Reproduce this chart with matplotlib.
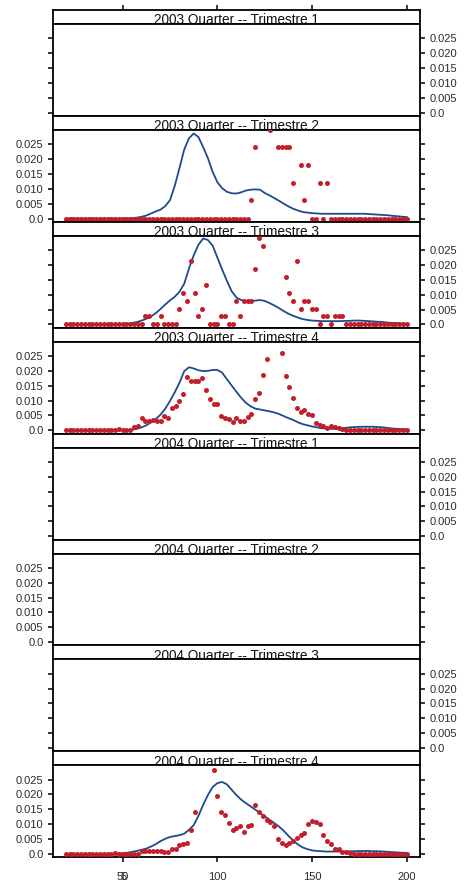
import numpy as np
import matplotlib.pyplot as plt

nan = np.nan

panel_titles = [
    "2003 Quarter -- Trimestre 1", "2003 Quarter -- Trimestre 2",
    "2003 Quarter -- Trimestre 3", "2003 Quarter -- Trimestre 4",
    "2004 Quarter -- Trimestre 1", "2004 Quarter -- Trimestre 2",
    "2004 Quarter -- Trimestre 3", "2004 Quarter -- Trimestre 4",
]

# observed values (red points), x = 20, 22, ..., 200
x_pts = np.arange(20, 201, 2)

pts_2003_q2 = [0.0] * 49 + [
    0.0061, 0.0239, nan, nan, nan, 0.0298, nan, 0.0239, 0.0239, 0.0239,
    0.0239, 0.0120, nan, 0.0179, 0.0061, 0.0179, 0.0, 0.0, 0.0120, 0.0,
    0.0120] + [0.0] * 21

pts_2003_q3 = [0.0] * 21 + [
    0.0027, 0.0027, 0.0, 0.0, 0.0027, 0.0, 0.0, 0.0, 0.0, 0.0053,
    0.0106, 0.0080, 0.0212, 0.0106, 0.0027, 0.0053, 0.0133, 0.0, 0.0, 0.0,
    0.0027, 0.0027, 0.0, 0.0, 0.0080, 0.0027, 0.0080, 0.0080, 0.0080, 0.0186,
    0.0292, 0.0265, nan, nan, nan, nan, nan, 0.0159, 0.0106, 0.0080,
    0.0212, 0.0053, 0.0080, 0.0080, 0.0053, 0.0053, 0.0, 0.0027, 0.0027, 0.0,
    0.0027, 0.0027, 0.0027] + [0.0] * 17

pts_2003_q4 = [0.0] * 13 + [
    0.0002, 0.0005, 0.0002, 0.0, 0.0002, 0.0010, 0.0016, 0.0040, 0.0030, 0.0031,
    0.0035, 0.0030, 0.0033, 0.0049, 0.0040, 0.0075, 0.0081, 0.0099, 0.0121, 0.0180,
    0.0165, 0.0165, 0.0165, 0.0176, 0.0137, 0.0107, 0.0089, 0.0089, 0.0048, 0.0041,
    0.0038, 0.0029, 0.0043, 0.0032, 0.0031, 0.0046, 0.0055, 0.0106, 0.0127, 0.0187,
    0.0240, nan, nan, nan, 0.0261, 0.0182, 0.0147, 0.0109, 0.0075, 0.0060,
    0.0067, 0.0055, 0.0051, 0.0026, 0.0017, 0.0015, 0.0007, 0.0014, 0.0012, 0.0007,
    0.0003, 0.0002] + [
    0.0002, 0.0001, 0.0001, 0.0, 0.0, 0.0001, 0.0, 0.0,
    0.0, 0.0, 0.0, 0.0, 0.0, 0.0, 0.0, 0.0]

pts_2004_q4 = [0.0] * 13 + [0.0003, 0.0001, 0.0001, 0.0001, 0.0001, 0.0001, 0.0001] + [
    0.0009, 0.0011, 0.0011, 0.0011, 0.0011, 0.0011, 0.0008, 0.0007, 0.0015, 0.0015,
    0.0030, 0.0032, 0.0037, 0.0081, 0.0142, nan, nan, nan, nan, 0.0282,
    0.0195, 0.0142, 0.0131, 0.0104, 0.0081, 0.0088, 0.0095, 0.0075, 0.0093, 0.0097,
    0.0163, 0.0140, 0.0129, 0.0115, 0.0109, 0.0093, 0.0050, 0.0036, 0.0030, 0.0036,
    0.0045, 0.0053, 0.0062, 0.0071, 0.0099, 0.0111, 0.0106, 0.0100, 0.0064, 0.0043,
    0.0033, 0.0015, 0.0015, 0.0008, 0.0006, 0.0003] + [0.0] * 15

# density curves (blue lines), x = 20, 22.5, ..., 200
x_dens = np.arange(20, 200.01, 2.5)

dens_2003_q2 = [0.0] * 14 + [
    0.0001, 0.0003, 0.0006, 0.0010, 0.0017, 0.0024, 0.0030, 0.0042, 0.0062, 0.0110,
    0.0170, 0.0232, 0.0270, 0.0286, 0.0274, 0.0240, 0.0203, 0.0157, 0.0122, 0.0102,
    0.0090, 0.0085, 0.0084, 0.0088, 0.0094, 0.0097, 0.0098, 0.0097, 0.0086, 0.0078,
    0.0069, 0.0060, 0.0050, 0.0041, 0.0033, 0.0027, 0.0022, 0.0020, 0.0018, 0.0017,
    0.0016, 0.0016, 0.0016, 0.0016, 0.0016, 0.0016, 0.0016, 0.0016, 0.0016, 0.0016,
    0.0015, 0.0014, 0.0013, 0.0012, 0.0011, 0.0009, 0.0008, 0.0006, 0.0005]

dens_2003_q3 = [0.0] * 12 + [
    0.0001, 0.0002, 0.0005, 0.0008, 0.0013, 0.0019, 0.0027, 0.0038, 0.0052, 0.0067,
    0.0081, 0.0093, 0.0110, 0.0137, 0.0188, 0.0232, 0.0268, 0.0289, 0.0284, 0.0265,
    0.0225, 0.0185, 0.0147, 0.0112, 0.0091, 0.0082, 0.0079, 0.0079, 0.0080, 0.0082,
    0.0079, 0.0072, 0.0064, 0.0055, 0.0045, 0.0036, 0.0029, 0.0023, 0.0018, 0.0015,
    0.0013, 0.0012, 0.0011, 0.0011, 0.0011, 0.0011, 0.0011, 0.0012, 0.0012, 0.0013,
    0.0013, 0.0012, 0.0011, 0.0010, 0.0009, 0.0008, 0.0006, 0.0005, 0.0004, 0.0003,
    0.0002]

dens_2003_q4 = [0.0] * 12 + [
    0.0001, 0.0001, 0.0002, 0.0005, 0.0010, 0.0017, 0.0027, 0.0038, 0.0053, 0.0073,
    0.0099, 0.0128, 0.0160, 0.0199, 0.0212, 0.0208, 0.0202, 0.0199, 0.0200, 0.0203,
    0.0203, 0.0194, 0.0172, 0.0151, 0.0130, 0.0110, 0.0093, 0.0081, 0.0073, 0.0070,
    0.0067, 0.0064, 0.0060, 0.0055, 0.0048, 0.0041, 0.0035, 0.0027, 0.0021, 0.0017,
    0.0013, 0.0010, 0.0007, 0.0006, 0.0005, 0.0005, 0.0006, 0.0008, 0.0010, 0.0011,
    0.0012, 0.0012, 0.0012, 0.0012, 0.0011, 0.0010, 0.0008, 0.0006, 0.0005, 0.0004,
    0.0003]

dens_2004_q4 = [0.0] * 11 + [
    0.0001, 0.0002, 0.0004, 0.0007, 0.0010, 0.0014, 0.0018, 0.0025, 0.0033, 0.0043,
    0.0051, 0.0057, 0.0060, 0.0063, 0.0068, 0.0081, 0.0097, 0.0128, 0.0165, 0.0198,
    0.0225, 0.0238, 0.0242, 0.0234, 0.0216, 0.0198, 0.0183, 0.0171, 0.0160, 0.0149,
    0.0138, 0.0127, 0.0115, 0.0104, 0.0092, 0.0078, 0.0061, 0.0045, 0.0032, 0.0022,
    0.0016, 0.0012, 0.0010, 0.0009, 0.0008, 0.0008, 0.0008, 0.0008, 0.0008, 0.0009,
    0.0009, 0.0010, 0.0010, 0.0010, 0.0009, 0.0009, 0.0008, 0.0007, 0.0006, 0.0005,
    0.0004, 0.0003]

panel_pts = [None, pts_2003_q2, pts_2003_q3, pts_2003_q4, None, None, None, pts_2004_q4]
panel_dens = [None, dens_2003_q2, dens_2003_q3, dens_2003_q4, None, None, None, dens_2004_q4]

y_ticks = [0.0, 0.005, 0.010, 0.015, 0.020, 0.025]
y_labels = ["0.0", "0.005", "0.010", "0.015", "0.020", "0.025"]
x_ticks = [50, 100, 150, 200]

plt.rcParams['font.family'] = ['Liberation Sans', 'DejaVu Sans']

W, H = 466, 886
fig = plt.figure(figsize=(W / 100, H / 100), dpi=100)

left, right = 53, 420
top0 = 10
block = 105.9
strip_h = 14
xlim = (13.2, 207)
ylim = (-0.0011, 0.0298)
red = '#c41e2a'
blue = '#1d4b8c'
lab_col = '#2b2b2b'
lw_frame = 1.3

for i in range(8):
    y_top = top0 + i * block
    sax = fig.add_axes([left / W, 1 - (y_top + strip_h) / H, (right - left) / W, strip_h / H])
    pax = fig.add_axes([left / W, 1 - (y_top + block) / H, (right - left) / W, (block - strip_h) / H])

    # strip
    sax.set_xlim(xlim)
    sax.set_ylim(0, 1)
    sax.set_yticks([])
    if i == 0:
        sax.set_xticks(x_ticks)
        sax.tick_params(axis='x', top=True, bottom=False, labeltop=False, labelbottom=False,
                        direction='out', length=3.6, width=1.1)
    else:
        sax.set_xticks([])
    for s in sax.spines.values():
        s.set_linewidth(lw_frame)
    sax.text(0.5, -0.02, panel_titles[i], transform=sax.transAxes, ha='center',
             va='baseline', fontsize=9.8, color='#111111')

    # panel
    if panel_dens[i] is not None:
        pax.plot(x_dens, panel_dens[i], color=blue, lw=1.3, zorder=2)
    if panel_pts[i] is not None:
        pax.plot(x_pts, panel_pts[i], 'o', ms=3.6, color=red, mec='none', zorder=3)
    pax.set_xlim(xlim)
    pax.set_ylim(ylim)
    pax.set_yticks(y_ticks)
    pax.set_yticklabels(y_labels)
    pax.tick_params(axis='y', left=True, right=True, labelleft=(i % 2 == 1),
                    labelright=(i % 2 == 0), direction='out', length=3.6, width=1.1,
                    labelsize=8, labelcolor=lab_col, pad=3.3)
    if i == 7:
        pax.set_xticks(x_ticks)
        pax.set_xticklabels([str(t) for t in x_ticks])
        pax.tick_params(axis='x', direction='out', length=3.6, width=1.1,
                        labelsize=8, labelcolor=lab_col, pad=7)
        # the reference shows a stray "5" drawn over the "50" label
        pax.annotate('5', xy=(50, 0), xycoords=('data', 'axes fraction'),
                     xytext=(0.5, -10.6), textcoords='offset points', ha='center',
                     va='top', fontsize=8, color=lab_col)
    else:
        pax.set_xticks([])
    for s in pax.spines.values():
        s.set_linewidth(lw_frame)

fig.savefig('out.png', dpi=100)
